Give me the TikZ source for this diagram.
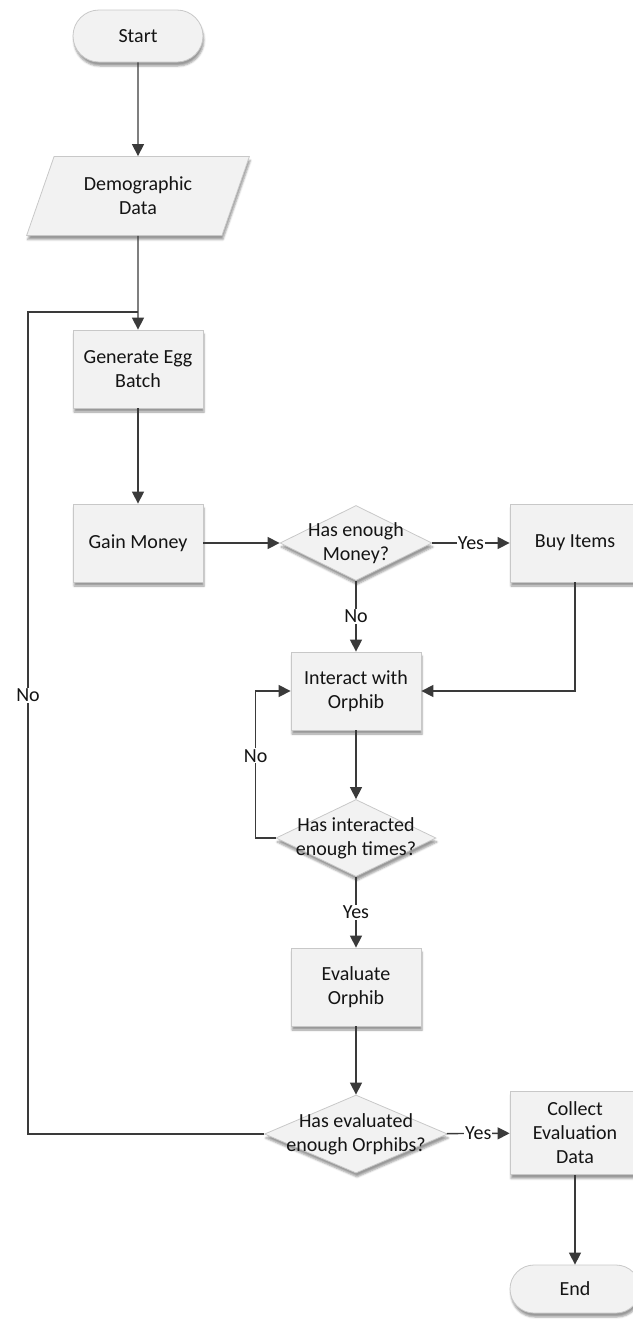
\documentclass[tikz,border=0pt]{standalone}
\usepackage{fontspec}
\setmainfont{Carlito}
\usetikzlibrary{shapes.geometric,shapes.misc,arrows.meta,shadows.blur}
\definecolor{boxfill}{HTML}{F2F2F2}
\definecolor{boxline}{HTML}{C8C8C8}
\definecolor{wire}{HTML}{3A3A3A}
\definecolor{ink}{HTML}{141414}
\begin{document}
\begin{tikzpicture}[x=1pt,y=-1pt,
  font=\fontsize{20}{24}\selectfont, text=ink,
  base/.style={draw=boxline, line width=0.8pt, fill=boxfill,
    blur shadow={shadow xshift=1pt, shadow yshift=-4pt, shadow blur radius=2pt, shadow opacity=40}},
  terminal/.style={base, rounded rectangle, minimum width=130pt, minimum height=52pt, inner sep=0pt},
  procbox/.style={base, rectangle, minimum width=130pt, minimum height=78pt, align=center, inner sep=2pt},
  iobox/.style={base, trapezium, trapezium left angle=65, trapezium right angle=115,
    trapezium stretches=true, minimum width=223pt, minimum height=79pt, align=center, inner sep=0pt},
  decision/.style={base, diamond, inner sep=0pt},
  caption/.style={align=center, inner sep=0pt},
  flow/.style={draw=wire, line width=1.4pt, -{Triangle[length=12pt,width=12pt]}},
  wireline/.style={draw=wire, line width=1.4pt},
  tag/.style={fill=white, inner sep=1pt}]
\useasboundingbox (0,0) rectangle (632,1320);

% process shapes
\node[terminal] (start) at (138,36) {Start};
\node[iobox] (demo) at (138,196) {Demographic\\Data};
\node[procbox] (egg) at (138,369) {Generate Egg\\Batch};
\node[procbox] (gain) at (138,543) {Gain Money};
\node[decision, minimum width=152pt, minimum height=75pt] (money) at (356,543) {};
\node[caption] (moneytxt) at (money) {Has enough\\Money?};
\node[procbox] (buy) at (575,543) {Buy Items};
\node[procbox] (interact) at (356,691) {Interact with\\Orphib};
\node[decision, minimum width=160pt, minimum height=77pt] (times) at (356,838) {};
\node[caption] (timestxt) at (times) {Has interacted\\enough times?};
\node[procbox] (eval) at (356,987) {Evaluate\\Orphib};
\node[decision, minimum width=183pt, minimum height=78pt] (enough) at (356,1134) {};
\node[caption] (enoughtxt) at (enough) {Has evaluated\\enough Orphibs?};
\node[procbox, minimum height=83pt] (collect) at (575,1133) {Collect\\Evaluation\\Data};
\node[terminal, minimum height=48pt] (end) at (575,1289) {End};

% loop-back corners
\coordinate (loopturn) at (28,312);
\coordinate (merge) at (138,312);

% connectors
\draw[flow] (start) -- (demo);
\draw[flow] (demo) -- (egg);
\draw[flow] (egg) -- (gain);
\draw[flow] (gain) -- (money);
\draw[flow] (money) -- node[tag]{Yes} (buy);
\draw[flow] (money) -- node[tag]{No} (interact);
\draw[flow] (buy.south) |- (interact.east);
\draw[flow] (interact) -- (times);
\draw[flow] (times) -- node[tag]{Yes} (eval);
\draw[flow] (times.west) -- ++(-20,0) |- node[tag, pos=0.28]{No} (interact.west);
\draw[flow] (eval) -- (enough);
\draw[flow] (enough) -- node[tag]{Yes} (collect);
\draw[flow] (collect) -- (end);
\draw[wireline] (enough.west) -| node[tag, pos=0.767]{No} (loopturn) -- (merge);
\end{tikzpicture}
\end{document}
